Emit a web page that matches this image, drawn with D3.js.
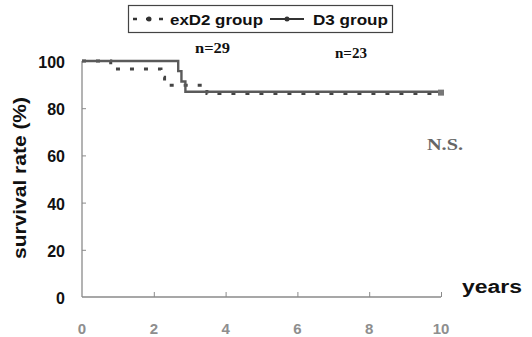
<!DOCTYPE html>
<html><head><meta charset="utf-8">
<script src="https://cdn.jsdelivr.net/npm/d3@7"></script>
<style>body{margin:0;background:#fff}svg{display:block}</style>
</head><body>
<script>
// ---- data ----
const xTicks = [0, 2, 4, 6, 8, 10];
const yTicks = [0, 20, 40, 60, 80, 100];
const exD2Times = [0, 0.8, 2.2, 2.3, 3.48, 10];
const exD2Surv  = [100, 96.6, 93.1, 89.7, 86.2, 86.2];
const d3Times = [0, 2.68, 2.77, 2.88, 10];
const d3Surv  = [100, 95.7, 91.3, 87.0, 87.0];
const seriesNames = ["exD2 group", "D3 group"];
const nLabels = ["n=29", "n=23"];

const W = 532, H = 337;
const svg = d3.select("body").append("svg").attr("width", W).attr("height", H);
const x = d3.scaleLinear().domain([0, 10]).range([82, 441]);
const y = d3.scaleLinear().domain([0, 100]).range([297, 61]);

// axes
const axisCol = "#8a8a8a";
const yAx = svg.append("g").attr("transform", `translate(${x(0)},0)`)
  .call(d3.axisRight(y).tickValues(yTicks).tickSize(4).tickFormat(""));
yAx.select(".domain").attr("stroke", axisCol).attr("stroke-width", 1.3).attr("d", `M0,${y(100)}V${y(0)}`);
yAx.selectAll(".tick line").attr("stroke", axisCol);
yAx.selectAll(".tick").filter(d => d === 0 || d === 100).remove();

const xAx = svg.append("g").attr("transform", `translate(0,${y(0)})`)
  .call(d3.axisTop(x).tickValues(xTicks).tickSize(5).tickFormat(""));
xAx.select(".domain").attr("stroke", axisCol).attr("stroke-width", 1.3).attr("d", `M${x(0)},0H${x(10)}`);
xAx.selectAll(".tick line").attr("stroke", axisCol);
xAx.selectAll(".tick").filter(d => d === 0).remove();

// tick labels
svg.append("g").selectAll("text").data(yTicks).join("text")
  .attr("x", 65).attr("y", d => y(d) + 7)
  .attr("text-anchor", "end")
  .style("font", "bold 16px 'Liberation Sans', Arial, sans-serif").attr("fill", "#111")
  .text(d => d);
svg.append("g").selectAll("text").data(xTicks).join("text")
  .attr("x", d => x(d)).attr("y", 334)
  .attr("text-anchor", "middle")
  .style("font", "bold 15px 'Liberation Sans', Arial, sans-serif").attr("fill", "#8e8e8e")
  .text(d => d);

// axis titles
svg.append("text").attr("transform", "translate(26,178) rotate(-90)")
  .attr("text-anchor", "middle")
  .attr("textLength", 162).attr("lengthAdjust", "spacingAndGlyphs")
  .style("font", "bold 18px 'Liberation Sans', Arial, sans-serif").attr("fill", "#111")
  .text("survival rate (%)");
svg.append("text").attr("x", 462).attr("y", 293)
  .attr("textLength", 60).attr("lengthAdjust", "spacingAndGlyphs")
  .style("font", "bold 18px 'Liberation Sans', Arial, sans-serif").attr("fill", "#111")
  .text("years");

// curves
const step = d3.line().curve(d3.curveStepAfter).x(d => x(d[0])).y(d => y(d[1]));
const exD2 = exD2Times.map((t, i) => [t, exD2Surv[i]]);
const d3g = d3Times.map((t, i) => [t, d3Surv[i]]);

svg.append("path").datum(exD2).attr("d", step)
  .attr("fill", "none").attr("stroke", "#444").attr("stroke-width", 3)
  .attr("stroke-dasharray", "4,10");
svg.append("path").datum(d3g).attr("d", step)
  .attr("fill", "none").attr("stroke", "#5a5a5a").attr("stroke-width", 2.4);
// end marker
svg.append("rect").attr("x", x(10) - 3).attr("y", y(86.6) - 3).attr("width", 6).attr("height", 6)
  .attr("fill", "#777");

// legend
const lg = svg.append("g");
lg.append("rect").attr("x", 128.5).attr("y", 5.5).attr("width", 264).attr("height", 27)
  .attr("fill", "#fff").attr("stroke", "#444").attr("stroke-width", 1.2);
lg.append("line").attr("x1", 133).attr("x2", 167).attr("y1", 19).attr("y2", 19)
  .attr("stroke", "#333").attr("stroke-width", 2.5).attr("stroke-dasharray", "4,9");
lg.append("circle").attr("cx", 149).attr("cy", 19).attr("r", 2.5).attr("fill", "#333");
lg.append("line").attr("x1", 270).attr("x2", 304).attr("y1", 19).attr("y2", 19)
  .attr("stroke", "#333").attr("stroke-width", 2.2);
lg.append("circle").attr("cx", 287).attr("cy", 19).attr("r", 2.5).attr("fill", "#333");
lg.selectAll("text.lt").data(seriesNames).join("text").attr("class", "lt")
  .attr("x", (d, i) => i === 0 ? 170 : 313).attr("y", 25)
  .attr("textLength", (d, i) => i === 0 ? 93 : 75).attr("lengthAdjust", "spacingAndGlyphs")
  .style("font", "bold 15px 'Liberation Sans', Arial, sans-serif").attr("fill", "#111")
  .text(d => d);

// annotations
svg.selectAll("text.n").data(nLabels).join("text").attr("class", "n")
  .attr("x", (d, i) => i === 0 ? 195 : 335).attr("y", (d, i) => i === 0 ? 53 : 58)
  .attr("textLength", (d, i) => i === 0 ? 35 : 32).attr("lengthAdjust", "spacingAndGlyphs")
  .style("font", "bold 14px 'Liberation Serif', 'Times New Roman', serif").attr("fill", "#111")
  .text(d => d);
svg.append("text").attr("x", 427).attr("y", 150)
  .attr("textLength", 36).attr("lengthAdjust", "spacingAndGlyphs")
  .style("font", "bold 16px 'Liberation Serif', 'Times New Roman', serif").attr("fill", "#666")
  .text("N.S.");
</script>
</body></html>
